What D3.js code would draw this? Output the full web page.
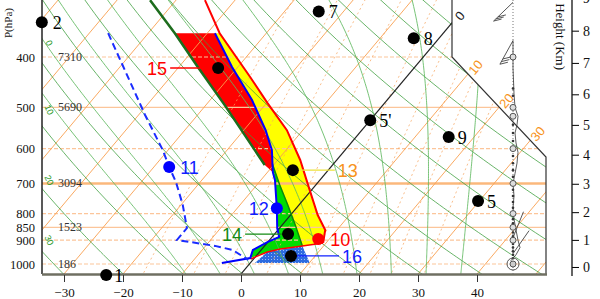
<!DOCTYPE html>
<html><head><meta charset="utf-8">
<script src="https://cdn.jsdelivr.net/npm/d3@7"></script>
<style>body{margin:0;background:#fff}svg{display:block}</style>
</head><body>
<svg id="c" width="600" height="299"></svg>
<script>
// ---------------- data ----------------
const pressureTicks = [400,500,600,700,800,850,900,1000];
const tempTicks = [-30,-20,-10,0,10,20,30,40];
const kmTicks = [0,1,2,3,4,5,6,7,8,9];
const heightLabels = ["7310","5690","3094","1523","186"];
const heightLabelP = [400,500,700,850,1000];
const isoLabelT = [0,10,20,30];
const thetaLabels = ["0","10","20","30"];
const thetaLabelP = [376,505,690,900];

// environment temperature (blue solid)
const envP = [360,418,484,553,604,666,690,781,853,887,907,940,974,996];
const envT = [-38.7,-31.0,-22.9,-16.3,-12.4,-9.1,-7.6,-3.3,-0.4,1.2,0.0,-1.4,-0.7,-4.8];
// dew point (blue dashed)
const dewP = [360,517,604,651,696,770,853,899,923,940,982];
const dewT = [-56.8,-38.9,-30.9,-27.4,-24.1,-19.7,-15.7,-15.7,-8.4,-4.8,-0.8];
// parcel path (red line)
const parcelP = [311,360,437,490,553,631,721,805,860,911];
const parcelT = [-45.1,-37.9,-26.5,-19.9,-12.7,-6.2,-0.3,4.6,8.0,9.5];
// green/yellow boundary
const cP = [640,705,770,841,923];
const cT = [-10.5,-6.1,-1.9,2.2,6.4];
// left edge of red area (dark green)
const dP = [311,360,418,495,604,645];
const dT = [-54.4,-45.5,-36.8,-26.8,-15.3,-11.5];
// low-level red separating line
const lowP = [978,948,936,923,911];
const lowT = [-0.5,1.3,3.1,6.4,9.5];
// blue hatched area
const hatchP = [948,923,996,996];
const hatchT = [1.3,6.4,10.1,0.8];

// annotated points
const ptNames = ["1","2","5","5'","7","8","9","10","11","12","13","14","15","16"];
const ptP = [1050,343,757,529,327,368,570,895,651,781,660,876,420,965];
const ptT = [-22.7,-69.6,29.8,0,-24.2,-4.3,15.7,8.1,-27.4,-3.3,-6.0,2.3,-33.2,5.9];

// wind profile
const windCircleP = [400,500,520,600,700,800,850,900];
const windDotP = [460,475,540,560,580,620,640,660,680,720,740,760,780,820,835,870,885,915,930,945,960,975];
const barbP = [314,372,890,955];
const barbDir = [226,209,22,35];
const traceP = [372,420,470,500,520,540,560,585,610,640,670,700,740,780,820,860,900,930,960,985,1000];
const traceU = [0,0,1,2,5,4,2,3,5,4,2,0,1,0,1,3,5,7,3,-2,0];

// guide line sets
const mixRatios = [1,2,3,5,8,12,16,20,28];
const thetaK = d3.range(230,500,10);
const thetaW = [-12,-6,0,6,12,18,24,30,36];

// ---------------- scales ----------------
const svg = d3.select("#c");
const yB = 274, skew = 0.84;
const y = d3.scaleLog().domain([1000,400]).range([264,57]);
const xb = d3.scaleLinear().domain([-30,40]).range([64,477]);
const X = (T,p) => xb(T) + skew*(yB - y(p));
const zToY = z => y(1013.25*Math.pow(1-2.25577e-5*z*1000,5.25588));
const zScale = d3.scaleLinear().domain(kmTicks).range(kmTicks.map(zToY));
const zip = (P,T) => P.map((p,i)=>[p,T[i]]);
const pLine = d3.line().x(d=>X(d[1],d[0])).y(d=>y(d[0]));

const defs = svg.append("defs");
const clipPts = [[42,0],[452,0],[452,57],[546,157],[546,274],[42,274]];
defs.append("clipPath").attr("id","pc").append("polygon")
  .attr("points", clipPts.map(d=>d.join(",")).join(" "));
const pat = defs.append("pattern").attr("id","hatch").attr("width",3).attr("height",3)
  .attr("patternUnits","userSpaceOnUse");
pat.append("rect").attr("width",3).attr("height",3).attr("fill","#2d6be0");
pat.append("rect").attr("x",1).attr("y",1).attr("width",1).attr("height",1).attr("fill","#9cc0f7");

const g = svg.append("g").attr("clip-path","url(#pc)");

// ---------------- filled areas ----------------
const envPts = zip(envP,envT);
const redPoly = zip(dP,dT).filter(d=>d[0]>=360)
  .concat(envPts.filter(d=>d[0]<=666).reverse());
const yellowPoly = envPts.filter(d=>d[0]<=604)
  .concat(zip(cP,cT)).concat([[lowP[4],lowT[4]]])
  .concat(zip(parcelP,parcelT).filter(d=>d[0]>=360).reverse());
const greenPoly = envPts.filter(d=>d[0]>=666 && d[0]<=974)
  .concat(zip(lowP,lowT).slice(1,4))
  .concat(zip(cP,cT).reverse().slice(1));
g.append("path").attr("d",pLine(yellowPoly)+"Z").attr("fill","#ffff00");
g.append("path").attr("d",pLine(redPoly)+"Z").attr("fill","#ff0000");
g.append("path").attr("d",pLine(greenPoly)+"Z").attr("fill","#00dd00");
g.append("path").attr("d",pLine(zip(hatchP,hatchT))+"Z").attr("fill","url(#hatch)");

// ---------------- background grid ----------------
const pRange = d3.range(1060,290,-10);
pressureTicks.forEach(p=>{
  const solid = p===700||p===850||p===500;
  g.append("line").attr("x1",42).attr("x2",546).attr("y1",y(p)).attr("y2",y(p))
    .attr("stroke", p===700?"#fbb87c":"#fcc59a")
    .attr("stroke-width", p===700?2.5:1.2)
    .attr("stroke-dasharray", solid?null:"4,2");
});
mixRatios.forEach(w=>{
  const pts = pRange.map(p=>{
    const e = w*p/(622+w); const l = Math.log(e/6.112);
    return [p, 243.5*l/(17.67-l)];
  });
  g.append("path").attr("d",pLine(pts)).attr("fill","none")
    .attr("stroke","#f7a45e").attr("stroke-width",0.9).attr("stroke-dasharray","2,3").attr("opacity",0.8);
});
d3.range(-110,60,10).forEach(t=>{
  if(t===0) return;
  g.append("path").attr("d",pLine([[1060,t],[290,t]])).attr("fill","none")
    .attr("stroke","#f8a050").attr("stroke-width",1).attr("opacity",0.9);
});
thetaK.forEach(th=>{
  const pts = pRange.map(p=>[p, th*Math.pow(p/1000,0.2857)-273.15]);
  g.append("path").attr("d",pLine(pts)).attr("fill","none")
    .attr("stroke","#3a9d3a").attr("stroke-width",0.9).attr("opacity",0.85);
});
function dTdp(p,T){
  const tc=T-273.15, es=6.112*Math.exp(17.67*tc/(tc+243.5)), rs=0.622*es/(p-es);
  return (287*T+2.5e6*rs)/(p*(1005+2.5e6*2.5e6*rs*0.622/(287*T*T)));
}
thetaW.forEach(t0=>{
  let T=t0+273.15, pts=[];
  for(let p=1000;p>=290;p-=5){ pts.push([p,T-273.15]); T -= 5*dTdp(p,T); }
  T=t0+273.15; const lo=[];
  for(let p=1000;p<=1060;p+=5){ lo.push([p,T-273.15]); T += 5*dTdp(p,T); }
  g.append("path").attr("d",pLine(lo.reverse().concat(pts))).attr("fill","none")
    .attr("stroke","#5fb85f").attr("stroke-width",1).attr("opacity",0.85);
});
g.append("path").attr("d",pLine([[1060,0],[290,0]])).attr("stroke","#222").attr("stroke-width",1.2);

// ---------------- profiles ----------------
g.append("path").attr("d",pLine(zip(dP,dT))).attr("fill","none").attr("stroke","#1d6d1d").attr("stroke-width",2.5);
g.append("path").attr("d",pLine(zip(cP,cT))).attr("fill","none").attr("stroke","#0c8a0c").attr("stroke-width",1.5);
g.append("path").attr("d",pLine(zip(lowP,lowT))).attr("fill","none").attr("stroke","#ff0000").attr("stroke-width",1.5);
g.append("path").attr("d",pLine(zip(parcelP,parcelT))).attr("fill","none").attr("stroke","#ff0000").attr("stroke-width",2);
g.append("path").attr("d",pLine(envPts)).attr("fill","none").attr("stroke","#0000ff").attr("stroke-width",2);
g.append("path").attr("d",pLine(zip(dewP,dewT))).attr("fill","none").attr("stroke","#1a2cff")
  .attr("stroke-width",2).attr("stroke-dasharray","7,4");

// ---------------- frame ----------------
svg.append("polyline").attr("points","452,0 452,57 546,157 546,274").attr("fill","none")
  .attr("stroke","#333").attr("stroke-width",1.2);
svg.append("line").attr("x1",42).attr("x2",42).attr("y1",0).attr("y2",274).attr("stroke","#222").attr("stroke-width",1.5);
svg.append("line").attr("x1",42).attr("x2",547).attr("y1",274.5).attr("y2",274.5).attr("stroke","#6f6f62").attr("stroke-width",2.5);

isoLabelT.forEach(t=>{
  let best=null;
  for(let p=300;p<1000;p+=1){
    const yy=y(p), xx=X(t,p);
    const edge = yy<57 ? 452 : 452+(yy-57)*0.93;
    if(xx<=edge){ best=[xx,yy]; break; }
  }
  if(!best) return;
  svg.append("text").attr("transform",`translate(${best[0]+8},${best[1]-7}) rotate(-50)`)
    .attr("text-anchor","middle").attr("dominant-baseline","central")
    .attr("font-family","Liberation Sans").attr("font-size",13)
    .attr("fill", t===0?"#222":"#f7941d").text(t);
});

// ---------------- wind profile ----------------
const poleX = 513;
svg.append("line").attr("x1",poleX).attr("x2",poleX).attr("y1",0).attr("y2",274)
  .attr("stroke","#777").attr("stroke-width",1).attr("stroke-dasharray","1,2");
svg.append("path").attr("d", d3.line().x((d,i)=>poleX+traceU[i]).y(d=>y(d))(traceP))
  .attr("fill","none").attr("stroke","#333").attr("stroke-width",0.8);
windDotP.forEach(p=>svg.append("circle").attr("cx",poleX).attr("cy",y(p)).attr("r",1.3).attr("fill","#333"));
windCircleP.forEach(p=>svg.append("circle").attr("cx",poleX).attr("cy",y(p)).attr("r",3)
  .attr("fill","#ddd").attr("stroke","#555").attr("stroke-width",1));
svg.append("circle").attr("cx",poleX).attr("cy",y(1000)).attr("r",6).attr("fill","none").attr("stroke","#555");
svg.append("circle").attr("cx",poleX).attr("cy",y(1000)).attr("r",3).attr("fill","#ccc").attr("stroke","#555");
barbP.forEach((p,i)=>{
  const a = barbDir[i]*Math.PI/180, L = i<2?27:28;
  const x0=poleX, y0=y(p), x1=x0+L*Math.sin(a), y1=y0-L*Math.cos(a);
  svg.append("line").attr("x1",x0).attr("y1",y0).attr("x2",x1).attr("y2",y1).attr("stroke","#444").attr("stroke-width",0.9);
  if(i<2){
    [0,3,6].forEach(k=>{
      const fx=x0+(L-k)*Math.sin(a), fy=y0-(L-k)*Math.cos(a);
      svg.append("line").attr("x1",fx).attr("y1",fy).attr("x2",fx+8).attr("y2",fy-2)
        .attr("stroke","#444").attr("stroke-width",0.9);
    });
  }
});

// ---------------- axes ----------------
const axL = svg.append("g").attr("transform","translate(42,0)")
  .call(d3.axisLeft(y).tickValues(pressureTicks).tickSize(0).tickPadding(7).tickFormat(d3.format("d")));
axL.select(".domain").remove();
axL.selectAll("text").attr("font-family","Liberation Serif").attr("font-size",12.5).attr("fill","#111");

const axB = svg.append("g").attr("transform","translate(0,275)")
  .call(d3.axisBottom(xb).tickValues(tempTicks).tickSize(7).tickPadding(6).tickFormat(d3.format("d")));
axB.select(".domain").remove();
axB.selectAll("line").attr("stroke","#333");
axB.selectAll("text").attr("font-family","Liberation Serif").attr("font-size",13).attr("fill","#111");

const axR = svg.append("g").attr("transform","translate(572,0)")
  .call(d3.axisRight(zScale).tickValues(kmTicks).tickSize(7).tickPadding(4).tickFormat(d3.format("d")));
axR.select(".domain").remove();
axR.selectAll("text").attr("font-family","Liberation Serif").attr("font-size",14).attr("fill","#111");
svg.append("line").attr("x1",572).attr("x2",572).attr("y1",0).attr("y2",276).attr("stroke","#111").attr("stroke-width",1.3);

svg.append("text").attr("transform","translate(12,38) rotate(-90)")
  .attr("font-family","Liberation Serif").attr("font-size",11).attr("fill","#111").text("P(hPa)");
svg.append("text").attr("transform","translate(556,70) rotate(90)").attr("text-anchor","end")
  .attr("font-family","Liberation Serif").attr("font-size",13).attr("fill","#111").text("Height (Km)");

heightLabels.forEach((t,i)=>{
  svg.append("text").attr("x",58).attr("y",y(heightLabelP[i])).attr("dominant-baseline","central")
    .attr("font-family","Liberation Serif").attr("font-size",12).attr("fill","#333").text(t);
});
thetaLabels.forEach((t,i)=>{
  svg.append("text").attr("transform",`translate(49,${y(thetaLabelP[i])}) rotate(65)`)
    .attr("text-anchor","middle").attr("dominant-baseline","central")
    .attr("font-family","Liberation Sans").attr("font-size",9).attr("fill","#2a9a2a").text(t);
});

// ---------------- annotated points ----------------
const ptStyle = {
  "1":{c:"#000",lc:"#000",dx:8,a:"start",serif:true},
  "2":{c:"#000",lc:"#000",dx:11,a:"start",serif:true},
  "5":{c:"#000",lc:"#000",dx:9,a:"start",serif:true},
  "5'":{c:"#000",lc:"#000",dx:9,a:"start",serif:true},
  "7":{c:"#000",lc:"#000",dx:10,a:"start",serif:true},
  "8":{c:"#000",lc:"#000",dx:10,a:"start",serif:true},
  "9":{c:"#000",lc:"#000",dx:9,a:"start",serif:true},
  "10":{c:"#ff0000",lc:"#ff0000",dx:12,a:"start"},
  "11":{c:"#0000ff",lc:"#1020ff",dx:11,a:"start"},
  "12":{c:"#0000ff",lc:"#1020ff",dx:-8,a:"end"},
  "13":{c:"#000",lc:"#f7941d",dx:45,a:"start",conn:"#ece23a"},
  "14":{c:"#000",lc:"#138a13",dx:-46,a:"end",conn:"#138a13"},
  "15":{c:"#000",lc:"#ff0000",dx:-51,a:"end",conn:"#ff0000"},
  "16":{c:"#000",lc:"#1020ff",dx:51,a:"start",conn:"#1020ff"}
};
ptNames.forEach((n,i)=>{
  const s=ptStyle[n], cx=X(ptT[i],ptP[i]), cy=y(ptP[i]);
  if(s.conn){
    const x2 = cx + s.dx + (s.dx>0?-3:3);
    svg.append("line").attr("x1",cx).attr("x2",x2).attr("y1",cy).attr("y2",cy)
      .attr("stroke",s.conn).attr("stroke-width",1.3);
  }
  svg.append("circle").attr("cx",cx).attr("cy",cy).attr("r",6).attr("fill",s.c);
  svg.append("text").attr("x",cx+s.dx).attr("y",cy+1).attr("text-anchor",s.a)
    .attr("dominant-baseline","central")
    .attr("font-family", s.serif?"Liberation Serif":"Liberation Sans")
    .attr("font-size",18).attr("fill",s.lc).text(n);
});
</script>
</body></html>
